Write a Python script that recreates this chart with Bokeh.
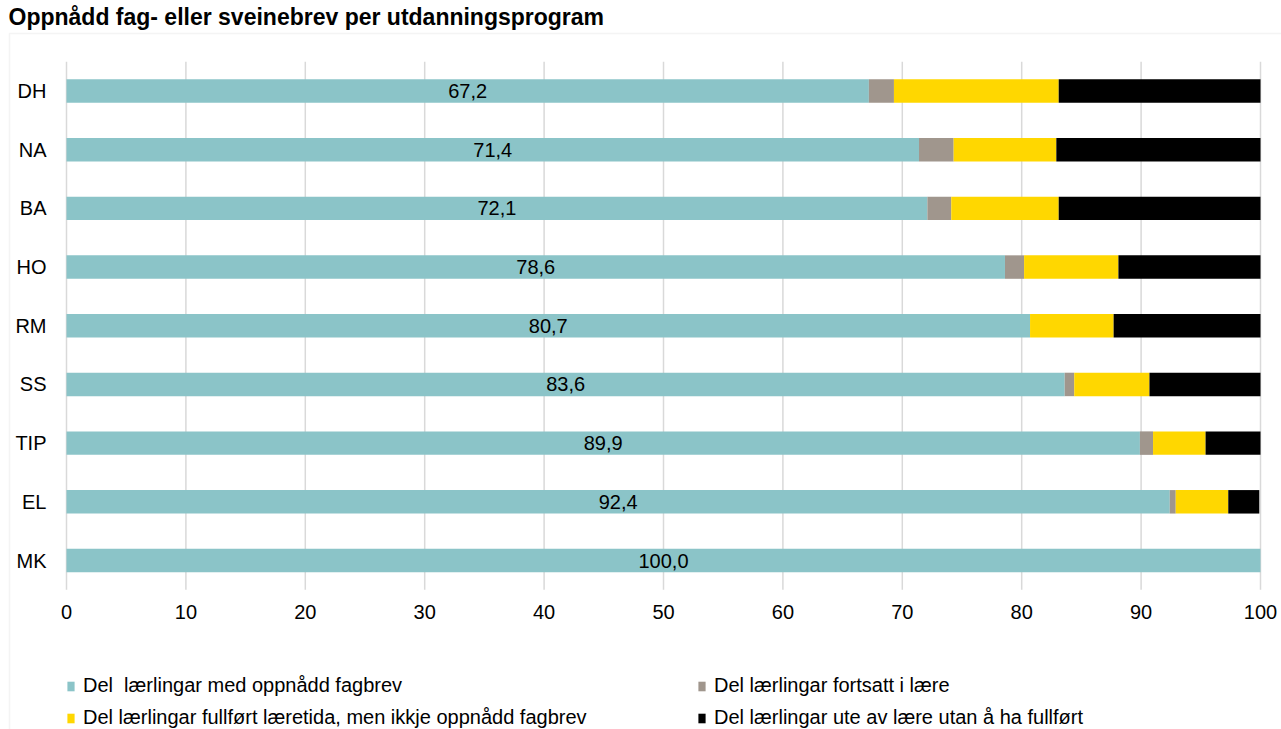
from bokeh.plotting import figure
from bokeh.models import (ColumnDataSource, Range1d, FixedTicker, Legend, LegendItem,
                          Label, BoxAnnotation)
from bokeh.embed import file_html
from bokeh.resources import INLINE
from bokeh.core.properties import value

# ---- data ----
categories = ["DH", "NA", "BA", "HO", "RM", "SS", "TIP", "EL", "MK"]
fagbrev = [67.2, 71.4, 72.1, 78.6, 80.7, 83.6, 89.9, 92.4, 100.0]
fortsatt = [2.1, 2.9, 2.0, 1.6, 0.0, 0.8, 1.1, 0.5, 0.0]
fullfort = [13.8, 8.6, 9.0, 7.9, 7.0, 6.3, 4.4, 4.4, 0.0]
ute = [16.9, 17.1, 16.9, 11.9, 12.3, 9.3, 4.6, 2.6, 0.0]
x_ticks = [0, 10, 20, 30, 40, 50, 60, 70, 80, 90, 100]
series_names = ["Del  lærlingar med oppnådd fagbrev",
                "Del lærlingar fortsatt i lære",
                "Del lærlingar fullført læretida, men ikkje oppnådd fagbrev",
                "Del lærlingar ute av lære utan å ha fullført"]
title_text = "Oppnådd fag- eller sveinebrev per utdanningsprogram"

colors = ["#8BC4C8", "#A0968D", "#FFD700", "#000000"]
FONT = "Liberation Sans"
GRID = "#d9d9d9"

W, H = 1281, 729
# plot-area placement on the canvas (pixels)
PX_LEFT, PX_RIGHT = 66, 1260          # x = 0 and x = 100
PX_ROW_TOP, ROW_PITCH = 90.5, 58.6875  # centre of first row, row spacing

n = len(categories)
ypos = [n - 1 - i for i in range(n)]   # first category at top

xscale = (PX_RIGHT - PX_LEFT) / (x_ticks[-1] - x_ticks[0])
x_start = x_ticks[0] - PX_LEFT / xscale
x_end = x_ticks[-1] + (W - PX_RIGHT) / xscale
y_end = (n - 1) + PX_ROW_TOP / ROW_PITCH
y_start = (n - 1) - (H - PX_ROW_TOP) / ROW_PITCH

source = ColumnDataSource(dict(
    y=ypos, fagbrev=fagbrev, fortsatt=fortsatt, fullfort=fullfort, ute=ute,
    mid=[v / 2 for v in fagbrev],
    lbl=[f"{v:.1f}".replace(".", ",") for v in fagbrev],
))

p = figure(width=W, height=H, output_backend="svg", toolbar_location=None, title=None,
           x_range=Range1d(x_start, x_end), y_range=Range1d(y_start, y_end),
           min_border_left=0, min_border_right=0, min_border_top=0, min_border_bottom=0)
p.outline_line_color = None
p.background_fill_color = "white"
p.border_fill_color = "white"
p.xgrid.grid_line_color = None
p.ygrid.grid_line_color = None

# vertical grid lines spanning the category block
p.segment(x0=x_ticks, x1=x_ticks, y0=[-0.5] * len(x_ticks), y1=[n - 0.5] * len(x_ticks),
          line_color=GRID, line_width=1.5)

renderers = p.hbar_stack(["fagbrev", "fortsatt", "fullfort", "ute"], y="y", height=0.4,
                         color=colors, line_color=None, source=source)

p.text(x="mid", y="y", text="lbl", source=source, text_align="center",
       text_baseline="middle", text_font=value(FONT), text_font_size="20px",
       text_color="#000000")

# axes drawn at the edges of the category block
p.xaxis.ticker = FixedTicker(ticks=x_ticks)
p.xaxis.fixed_location = -0.5
p.yaxis.ticker = FixedTicker(ticks=ypos)
p.yaxis.major_label_overrides = {y: c for y, c in zip(ypos, categories)}
p.yaxis.fixed_location = x_ticks[0]
for ax in (p.xaxis[0], p.yaxis[0]):
    ax.axis_line_color = None
    ax.major_tick_line_color = None
    ax.minor_tick_line_color = None
    ax.major_tick_out = 0
    ax.major_tick_in = 0
    ax.minor_tick_out = 0
    ax.minor_tick_in = 0
    ax.major_label_text_font = FONT
    ax.major_label_text_font_size = "20px"
    ax.major_label_text_color = "#000000"
p.xaxis.major_label_standoff = 15
p.yaxis.major_label_standoff = 20

# legend: two columns
cols = [((0, 2), PX_LEFT), ((1, 3), 697)]
for (a, b), xloc in cols:
    lg = Legend(items=[LegendItem(label=series_names[a], renderers=[renderers[a]]),
                       LegendItem(label=series_names[b], renderers=[renderers[b]])],
                orientation="vertical", location=(xloc, 0),
                glyph_width=9, glyph_height=12, label_standoff=8, spacing=9,
                padding=0, margin=0, label_text_font=FONT,
                label_text_font_size="20px", label_text_color="#000000",
                background_fill_alpha=0, border_line_alpha=0)
    p.add_layout(lg, "center")

# chart-area frame (left and top edges) and title
p.add_layout(BoxAnnotation(left=9, right=W + 20, top=33, bottom=H + 20,
                           left_units="canvas", right_units="canvas",
                           top_units="canvas", bottom_units="canvas",
                           fill_alpha=0, line_color=GRID, line_width=1.5))
p.add_layout(Label(x=8, y=3, x_units="canvas", y_units="canvas", text=title_text,
                   text_font=FONT, text_font_style="bold", text_font_size="23px",
                   text_baseline="top", text_align="left", text_color="#000000"))

open("out.html", "w").write(file_html(p, INLINE))
